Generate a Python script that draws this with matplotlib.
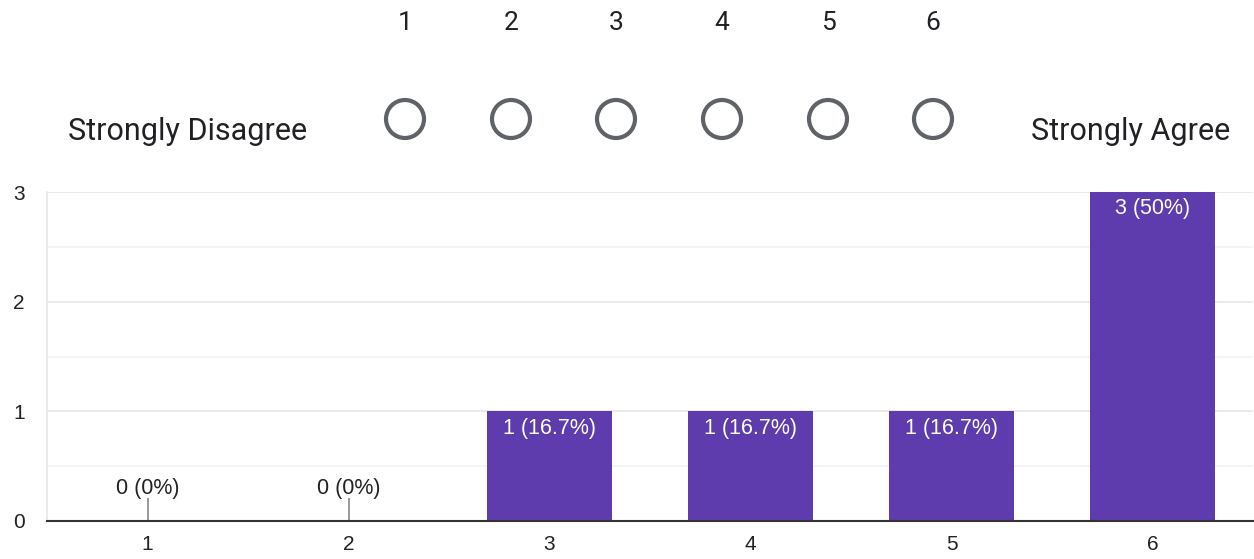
import matplotlib
matplotlib.use("Agg")
import matplotlib.pyplot as plt
from matplotlib.patches import Circle

categories = ["1", "2", "3", "4", "5", "6"]
counts = [0, 0, 1, 1, 1, 3]
percents = ["0%", "0%", "16.7%", "16.7%", "16.7%", "50%"]
scale_labels = ["1", "2", "3", "4", "5", "6"]
low_label = "Strongly Disagree"
high_label = "Strongly Agree"
yticks = [0, 1, 2, 3]

W, H = 1254, 559
fig = plt.figure(figsize=(W / 100, H / 100), dpi=100)
fig.patch.set_facecolor("white")

# Header (linear scale) drawn in pixel coordinates
hdr = fig.add_axes([0, 0, 1, 1])
hdr.set_xlim(0, W)
hdr.set_ylim(H, 0)
hdr.axis("off")
scale_x = [405, 511, 616, 722, 828, 933]
for xs, lab in zip(scale_x, scale_labels):
    hdr.text(xs, 23, lab, ha="center", va="center", fontsize=19,
             family="Roboto", color="#202124")
    hdr.add_patch(Circle((xs, 119), 19, fill=False, edgecolor="#5f6368", lw=3))
hdr.text(68, 132, low_label, ha="left", va="center", fontsize=22,
         family="Roboto", color="#202124")
hdr.text(1230, 132, high_label, ha="right", va="center", fontsize=22,
         family="Roboto", color="#202124")

# Bar chart
ax = fig.add_axes([47 / W, (H - 521) / H, (1253 - 47) / W, (521 - 192) / H])
x = list(range(1, len(categories) + 1))
ax.bar(x, counts, width=0.62, color="#5e3cad", zorder=3)
ax.set_xlim(0.5, 6.5)
ax.set_ylim(0, 3)
ax.set_xticks(x)
ax.set_xticklabels(categories, fontsize=15, family="Liberation Sans", color="#222222")
ax.set_yticks(yticks)
ax.set_yticklabels([str(v) for v in yticks], fontsize=15, family="Liberation Sans",
                   color="#222222")
ax.set_yticks([0.5, 1.5, 2.5], minor=True)
ax.tick_params(axis="both", which="both", length=0)
ax.tick_params(axis="x", pad=10)
ax.tick_params(axis="y", pad=16)
ax.grid(axis="y", which="major", color="#e6e6e6", lw=1.2, zorder=0)
ax.grid(axis="y", which="minor", color="#f2f2f2", lw=1.2, zorder=0)
for s in ["top", "right"]:
    ax.spines[s].set_visible(False)
ax.spines["left"].set_color("#e6e6e6")
ax.spines["left"].set_linewidth(1.2)
ax.spines["bottom"].set_color("#333333")
ax.spines["bottom"].set_linewidth(1.5)
ax.spines["bottom"].set_zorder(4)

for xi, c, p in zip(x, counts, percents):
    lab = f"{c} ({p})"
    if c == 0:
        ax.vlines(xi, 0, 0.21, color="#888888", lw=1.2, zorder=3)
        ax.text(xi, 0.30, lab, ha="center", va="center", fontsize=15.5,
                family="Liberation Sans", color="#222222", zorder=5)
    else:
        ax.text(xi, c - 0.155, lab, ha="center", va="center", fontsize=15.5,
                family="Liberation Sans", color="white", zorder=5)

fig.savefig("out.png", dpi=100, facecolor="white")
